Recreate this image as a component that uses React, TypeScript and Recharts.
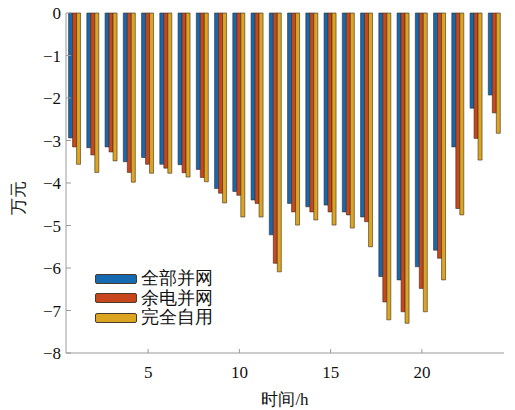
import React from "react";
import { BarChart, Bar, XAxis, YAxis, Legend } from "recharts";

// 时间 (h)
const hours = Array.from({ length: 24 }, (_, i) => i + 1);

// 全部并网
const allGrid = [
  -2.94, -3.17, -3.15, -3.5, -3.4, -3.56, -3.57, -3.68, -4.13, -4.2, -4.4, -5.22,
  -4.48, -4.56, -4.52, -4.68, -4.8, -6.2, -6.28, -5.97, -5.58, -3.15, -2.24, -1.93,
];
// 余电并网
const surplusGrid = [
  -3.15, -3.34, -3.27, -3.75, -3.56, -3.65, -3.76, -3.87, -4.24, -4.29, -4.48, -5.89,
  -4.68, -4.68, -4.68, -4.75, -4.91, -6.8, -7.03, -6.48, -5.77, -4.6, -2.95, -2.35,
];
// 完全自用
const selfUse = [
  -3.56, -3.75, -3.48, -3.98, -3.77, -3.77, -3.86, -3.97, -4.47, -4.8, -4.8, -6.09,
  -4.99, -4.87, -4.99, -5.06, -5.5, -7.22, -7.3, -7.03, -6.28, -4.75, -3.46, -2.83,
];

const yTicks = [0, -1, -2, -3, -4, -5, -6, -7, -8];
const xTickLabels = [5, 10, 15, 20];

const series = [
  { key: "allGrid", name: "全部并网", color: "#1469b0" },
  { key: "surplusGrid", name: "余电并网", color: "#c8461c" },
  { key: "selfUse", name: "完全自用", color: "#dca521" },
];

const data = hours.map((h, i) => ({
  hour: h,
  allGrid: allGrid[i],
  surplusGrid: surplusGrid[i],
  selfUse: selfUse[i],
}));

const FONT = "Liberation Serif, DejaVu Serif, serif";
const AXIS = "#9a9a9a";
const textStyle = { fontFamily: FONT };

const fmtY = (v: number) => (v === 0 ? "0" : "\u2212" + Math.abs(v));

function XTick(props: any) {
  const { x, y, payload } = props;
  if (!xTickLabels.includes(payload.value)) return null;
  return (
    <g>
      <line x1={x} x2={x} y1={y} y2={y - 4} stroke={AXIS} strokeWidth={1} />
      <text x={x} y={y + 25} textAnchor="middle" fontSize={17} style={textStyle} fill="#111">
        {payload.value}
      </text>
    </g>
  );
}

function YTick(props: any) {
  const { x, y, payload } = props;
  return (
    <text x={x} y={y} dy={6} textAnchor="end" fontSize={17} style={textStyle} fill="#111">
      {fmtY(payload.value)}
    </text>
  );
}

function LegendBox() {
  return (
    <div style={{ fontFamily: FONT, fontSize: 18, lineHeight: "19.5px", color: "#111" }}>
      {series.map((s) => (
        <div key={s.key} style={{ display: "flex", alignItems: "center" }}>
          <span
            style={{
              display: "inline-block",
              width: 40,
              height: 8,
              background: s.color,
              border: "1px solid #4a3a2a",
              borderRadius: 2,
              marginRight: 4,
            }}
          />
          <span>{s.name}</span>
        </div>
      ))}
    </div>
  );
}

export default function App() {
  return (
    <div style={{ position: "absolute", left: 0, top: 0, width: 515, height: 410, background: "#fff", fontFamily: FONT }}>
      <BarChart
        width={515}
        height={410}
        data={data}
        margin={{ top: 13, right: 11, left: 0, bottom: 0 }}
        barCategoryGap="14%"
        barGap={0}
      >
        <XAxis
          dataKey="hour"
          type="category"
          interval={0}
          height={57}
          stroke={AXIS}
          tickLine={false}
          tickSize={0}
          tickMargin={0}
          tick={<XTick />}
          label={{
            value: "时间/h",
            position: "insideBottom",
            offset: 5,
            fontSize: 17,
            style: textStyle,
            fill: "#111",
          }}
        />
        <YAxis
          type="number"
          domain={[-8, 0]}
          ticks={yTicks}
          width={66}
          stroke={AXIS}
          tickSize={-5}
          tickMargin={10}
          tick={<YTick />}
          label={{
            content: ({ viewBox }: any) => (
              <text
                x={viewBox.x + 18}
                y={viewBox.y + viewBox.height / 2 + 15}
                transform={`rotate(-90 ${viewBox.x + 18} ${viewBox.y + viewBox.height / 2 + 15})`}
                textAnchor="middle"
                dominantBaseline="central"
                fontSize={17}
                style={textStyle}
                fill="#111"
              >
                万元
              </text>
            ),
          }}
        />
        <Legend
          layout="vertical"
          align="center"
          verticalAlign="middle"
          wrapperStyle={{ left: 95, top: 269, width: "auto" }}
          content={<LegendBox />}
        />
        {series.map((s) => (
          <Bar
            key={s.key}
            dataKey={s.key}
            name={s.name}
            fill={s.color}
            stroke="#3a2c20"
            strokeWidth={0.6}
            isAnimationActive={false}
          />
        ))}
      </BarChart>
    </div>
  );
}
